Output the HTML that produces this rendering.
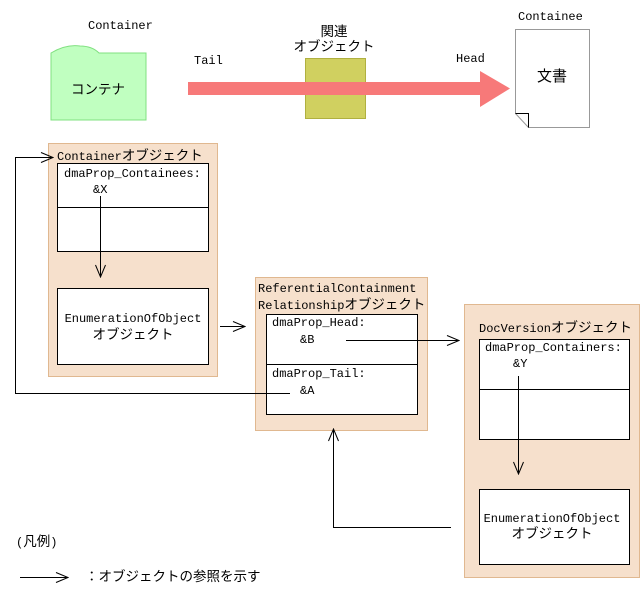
<!DOCTYPE html>
<html><head><meta charset="utf-8"><style>
body{margin:0;background:#fff;}
svg text{font-family:"Liberation Mono","Noto Sans CJK JP",monospace;font-size:12px;fill:#000;}
svg .k{font-size:13.5px;}
</style></head><body>
<svg width="642" height="591" viewBox="0 0 642 591" xmlns="http://www.w3.org/2000/svg">
<defs><marker id="a" markerWidth="14" markerHeight="12" refX="13" refY="6" orient="auto" markerUnits="userSpaceOnUse"><path d="M1,1 L13,6 L1,11" fill="none" stroke="#000" stroke-width="1"/></marker></defs>
<text x="88" y="29">Container</text>
<path d="M51,53 Q66,44 80,46 Q92,46 99,53 L146,53 L146,120 L51,120 Z" fill="#c0ffc0" stroke="#80e080" stroke-width="1"/>
<text x="98" y="94" text-anchor="middle" class="k">コンテナ</text>
<text x="194" y="64">Tail</text>
<rect x="305.5" y="58.5" width="60" height="60" fill="#d0d060" stroke="#b0b040"/>
<polygon points="188,82 480,82 480,71 510,88.5 480,107 480,95 188,95" fill="#f77979"/>
<text x="334" y="36" text-anchor="middle" class="k">関連</text>
<text x="334" y="51" text-anchor="middle" class="k">オブジェクト</text>
<text x="456" y="62">Head</text>
<text x="518" y="20">Containee</text>
<path d="M515.5,29.5 L589.5,29.5 L589.5,127.5 L528.5,127.5 L515.5,113.5 Z" fill="#fff" stroke="#999"/>
<path d="M515.5,113.5 L528.5,113.5 L528.5,127.5" fill="none" stroke="#000"/>
<text x="552" y="81" text-anchor="middle" style="font-size:15px">文書</text>
<rect x="48.5" y="143.5" width="169" height="233" fill="#f6e0cc" stroke="#e0b890"/>
<rect x="255.5" y="277.5" width="172" height="153" fill="#f6e0cc" stroke="#e0b890"/>
<rect x="464.5" y="304.5" width="175" height="273" fill="#f6e0cc" stroke="#e0b890"/>
<text x="57" y="160">Container<tspan class="k">オブジェクト</tspan></text>
<rect x="57.5" y="163.5" width="151" height="88" fill="#fff" stroke="#000"/>
<line x1="57" y1="207.5" x2="208" y2="207.5" stroke="#000"/>
<text x="64" y="177">dmaProp_Containees:</text>
<text x="93" y="193">&amp;X</text>
<line x1="100.5" y1="196" x2="100.5" y2="277" stroke="#000" marker-end="url(#a)"/>
<rect x="57.5" y="288.5" width="151" height="76" fill="#fff" stroke="#000"/>
<text x="133" y="322" text-anchor="middle">EnumerationOfObject</text>
<text x="133" y="339" text-anchor="middle" class="k">オブジェクト</text>
<line x1="220" y1="326.5" x2="245" y2="326.5" stroke="#000" marker-end="url(#a)"/>
<text x="258" y="292">ReferentialContainment</text>
<text x="258" y="309">Relationship<tspan class="k">オブジェクト</tspan></text>
<rect x="266.5" y="314.5" width="151" height="100" fill="#fff" stroke="#000"/>
<line x1="266" y1="364.5" x2="417" y2="364.5" stroke="#000"/>
<text x="272" y="326">dmaProp_Head:</text>
<text x="300" y="343">&amp;B</text>
<text x="272" y="377">dmaProp_Tail:</text>
<text x="300" y="394">&amp;A</text>
<line x1="346" y1="340.5" x2="459" y2="340.5" stroke="#000" marker-end="url(#a)"/>
<polyline points="290,393.5 15.5,393.5 15.5,157.5 53,157.5" fill="none" stroke="#000" marker-end="url(#a)"/>
<text x="479" y="332">DocVersion<tspan class="k">オブジェクト</tspan></text>
<rect x="479.5" y="339.5" width="150" height="100" fill="#fff" stroke="#000"/>
<line x1="479" y1="389.5" x2="629" y2="389.5" stroke="#000"/>
<text x="485" y="351">dmaProp_Containers:</text>
<text x="513" y="367">&amp;Y</text>
<line x1="518.5" y1="376" x2="518.5" y2="474" stroke="#000" marker-end="url(#a)"/>
<rect x="479.5" y="489.5" width="150" height="75" fill="#fff" stroke="#000"/>
<text x="552" y="522" text-anchor="middle">EnumerationOfObject</text>
<text x="552" y="538" text-anchor="middle" class="k">オブジェクト</text>
<polyline points="451,527.5 333.5,527.5 333.5,429" fill="none" stroke="#000" marker-end="url(#a)"/>
<text x="16" y="546">(<tspan class="k">凡例</tspan>)</text>
<line x1="20" y1="577.5" x2="68" y2="577.5" stroke="#000" marker-end="url(#a)"/>
<text x="85" y="581" class="k">：オブジェクトの参照を示す</text>
</svg>
</body></html>
